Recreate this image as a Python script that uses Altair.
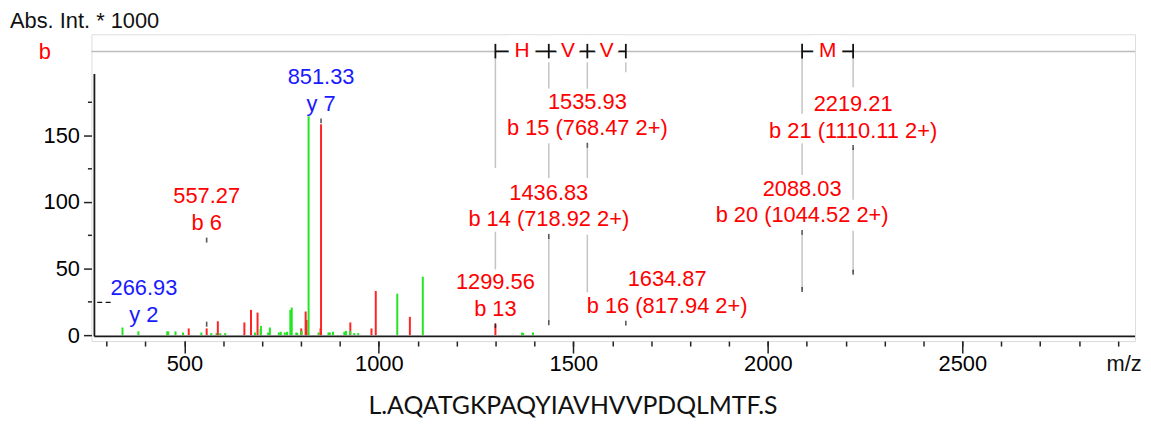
import altair as alt
import pandas as pd

# ---------------- data ----------------
peak_mz = [340.9, 381.8, 455.8, 458.5, 477.2, 496.6, 511.2, 543.6, 557.3, 569.1,
           582.7, 586.0, 592.1, 604.9, 654.2, 671.3, 681.5, 688.1, 695.9, 696.8,
           715.4, 719.8, 742.7, 747.9, 758.1, 763.9, 772.4, 776.0, 787.7, 790.5,
           800.4, 801.5, 811.7, 814.2, 819.3, 844.9, 850.0, 851.33, 870.4, 874.0,
           882.1, 911.2, 915.3, 926.6, 926.0, 936.8, 947.0, 981.0, 992.0, 1047.3,
           1079.7, 1112.9, 1299.56, 1368.2, 1371.0, 1396.3]
peak_int = [5.7, 2.8, 2.8, 2.8, 2.8, 2.0, 5.0, 2.0, 5.0, 1.5,
            1.5, 10.4, 1.5, 1.5, 9.5, 18.9, 2.0, 16.9, 4.5, 6.9,
            2.0, 5.7, 2.0, 2.5, 2.0, 2.5, 18.9, 20.7, 2.0, 1.5,
            5.0, 3.2, 17.7, 11.4, 164.2, 2.0, 5.0, 158.2, 2.0, 2.0,
            2.5, 2.5, 3.2, 9.5, 3.2, 1.5, 1.5, 5.0, 33.1, 31.1,
            13.7, 43.8, 8.2, 2.0, 1.5, 2.0]
peak_col = ["g", "g", "g", "g", "g", "g", "r", "g", "r", "g",
            "g", "r", "g", "g", "r", "r", "g", "r", "g", "g",
            "g", "g", "g", "g", "g", "g", "g", "g", "g", "g",
            "r", "g", "r", "r", "g", "g", "r", "r", "g", "g",
            "g", "g", "g", "r", "g", "g", "g", "r", "r", "g",
            "r", "g", "r", "g", "g", "g"]

ann_label_mz = [396.0, 557.27, 851.33, 1299.56, 1436.83, 1535.93, 1741.0, 2088.03, 2219.21]
ann_anchor = [2.2, 71.3, 160.8, 7.1, 74.1, 142.5, 9.0, 77.1, 140.8]
ann_line1 = ["266.93", "557.27", "851.33", "1299.56", "1436.83", "1535.93",
             "1634.87", "2088.03", "2219.21"]
ann_line2 = ["y 2", "b 6", "y 7", "b 13", "b 14 (718.92 2+)", "b 15 (768.47 2+)",
             "b 16 (817.94 2+)", "b 20 (1044.52 2+)", "b 21 (1110.11 2+)"]
ann_col = ["#1a1aff", "#ff0000", "#1a1aff", "#ff0000", "#ff0000", "#ff0000",
           "#ff0000", "#ff0000", "#ff0000"]

marker_mz = [557.27, 557.27, 851.33, 1299.56, 1436.83, 1436.83, 1535.93,
             1634.87, 2088.03, 2088.03, 2219.21, 2219.21]
marker_int = [71.3, 8.2, 160.8, 7.1, 74.1, 9.3, 142.5, 9.0, 77.1, 34.3, 140.8, 47.2]

y2_dash_mz = [276.0, 312.0]
y2_dash_int = 24.6

ladder_mz = [1299.56, 1436.83, 1535.93, 1634.87, 2088.03, 2219.21]
ladder_res = ["H", "V", "V", "M"]
ladder_pairs = [(0, 1), (1, 2), (2, 3), (4, 5)]
ladder_runs = [(0, 3), (4, 5)]
ladder_level = 212.9
ladder_tick = (207.7, 218.6)

seg_mz = [1299.56, 1299.56,
          1436.83, 1436.83, 1436.83,
          1535.93, 1535.93, 1535.93,
          1634.87,
          2088.03, 2088.03, 2088.03,
          2219.21, 2219.21, 2219.21]
seg_top = [208.2, 77.6, 204.7, 144.0, 73.1, 204.7, 141.0, 75.4, 204.7,
           208.2, 144.0, 76.1, 208.2, 140.3, 78.4]
seg_bot = [125.4, 49.3, 185.1, 117.9, 10.4, 184.9, 117.9, 32.1, 197.2,
           166.2, 120.1, 34.3, 186.0, 101.5, 47.0]

x_major = [500, 1000, 1500, 2000, 2500]
x_minor = list(range(300, 3000, 100))
y_major = [0, 50, 100, 150]
y_minor = [25, 75, 125, 175]

XDOM = [261.0, 2944.0]
YDOM = [-4.5, 225.8]
inner_axis_mz = 268.7
inner_axis_int = (-0.97, 196.0)

sequence = "L.AQATGKPAQYIAVHVVPDQLMTF.S"

W, H = 1051, 309
FONT = "Liberation Sans"
FS = 22
GREEN = "#22e622"
RED = "#ff2424"

# ---------------- tables ----------------
peaks = pd.DataFrame({"mz": peak_mz, "inten": peak_int, "c": peak_col})
peaks["color"] = peaks["c"].map({"g": GREEN, "r": RED})
peaks["zero"] = 0.0

anns = pd.DataFrame({"mz": ann_label_mz, "anchor": ann_anchor, "l1": ann_line1,
                     "l2": ann_line2, "color": ann_col})
markers = pd.DataFrame({"mz": marker_mz, "inten": marker_int})
segs = pd.DataFrame({"mz": seg_mz, "top": seg_top, "bot": seg_bot})
lad = pd.DataFrame({"mz": ladder_mz, "lo": ladder_tick[0], "hi": ladder_tick[1]})
runs = pd.DataFrame({"a": [ladder_mz[i] for i, j in ladder_runs],
                     "b": [ladder_mz[j] for i, j in ladder_runs],
                     "lev": ladder_level})
res = pd.DataFrame({"mz": [(ladder_mz[i] + ladder_mz[j]) / 2 for i, j in ladder_pairs],
                    "res": ladder_res, "lev": ladder_level})
span = pd.DataFrame({"a": [XDOM[0]], "b": [XDOM[1]], "lev": [ladder_level]})
inner = pd.DataFrame({"mz": [inner_axis_mz], "lo": [inner_axis_int[0]],
                      "hi": [inner_axis_int[1]], "right": [XDOM[1]]})
dash = pd.DataFrame({"a": [y2_dash_mz[0]], "b": [y2_dash_mz[1]], "lev": [y2_dash_int]})

xs = alt.Scale(domain=XDOM, nice=False, zero=False)
ys = alt.Scale(domain=YDOM, nice=False, zero=False)

axis_common = dict(domain=False, grid=False, title=None, tickColor="#222222",
                   tickWidth=1.5, labelFont=FONT, labelFontSize=FS,
                   labelColor="black", labelFlush=False, labelOverlap=False,
                   format="d")

ax_x_major = alt.Axis(values=x_major, tickSize=12, labelPadding=1, orient="bottom",
                      **axis_common)
ax_x_minor = alt.Axis(values=x_minor, tickSize=5, labels=False, orient="bottom",
                      **axis_common)
ax_y_major = alt.Axis(values=y_major, tickSize=8, labelPadding=4, orient="left",
                      **axis_common)
ax_y_minor = alt.Axis(values=y_minor, tickSize=4, labels=False, orient="left",
                      **axis_common)


def X(field, axis=None):
    return alt.X(field, type="quantitative", scale=xs, axis=axis)


def Y(field, axis=None):
    return alt.Y(field, type="quantitative", scale=ys, axis=axis)


# ---------------- layers ----------------
ladder_line = alt.Chart(span).mark_rule(color="#bdbdbd", strokeWidth=1.5).encode(
    x=X("a"), x2="b", y=Y("lev"))

gray_segs = alt.Chart(segs).mark_rule(color="#c4c4c4", strokeWidth=1.5).encode(
    x=X("mz"), y=Y("top"), y2="bot")

peak_layer = alt.Chart(peaks).mark_rule(strokeWidth=2).encode(
    x=X("mz", ax_x_major), y=Y("zero", ax_y_major), y2="inten",
    color=alt.Color("color:N", scale=None))

minor_axes = alt.Chart(peaks).mark_point(opacity=0).encode(
    x=X("mz", ax_x_minor), y=Y("zero", ax_y_minor))

inner_y = alt.Chart(inner).mark_rule(color="#1a1a1a", strokeWidth=1.8).encode(
    x=X("mz"), y=Y("lo"), y2="hi")
inner_x = alt.Chart(inner).mark_rule(color="#1a1a1a", strokeWidth=1.8).encode(
    x=X("mz"), x2="right", y=Y("lo"))

marker_layer = alt.Chart(markers).mark_tick(orient="vertical", size=5, thickness=1.6,
                                             color="#111111").encode(
    x=X("mz"), y=Y("inten"))

dash_layer = alt.Chart(dash).mark_rule(color="#111111", strokeWidth=1.4,
                                       strokeDash=[5, 3.5]).encode(
    x=X("a"), x2="b", y=Y("lev"))

lad_ticks = alt.Chart(lad).mark_rule(color="#111111", strokeWidth=1.8).encode(
    x=X("mz"), y=Y("lo"), y2="hi")
lad_runs = alt.Chart(runs).mark_rule(color="#111111", strokeWidth=1.8).encode(
    x=X("a"), x2="b", y=Y("lev"))
res_halo = alt.Chart(res).mark_text(font=FONT, fontSize=21, color="white",
                                    stroke="white", strokeWidth=15,
                                    baseline="middle").encode(
    x=X("mz"), y=Y("lev"), text="res:N")
res_text = alt.Chart(res).mark_text(font=FONT, fontSize=21, color="#ff0000",
                                    baseline="middle").encode(
    x=X("mz"), y=Y("lev"), text="res:N")

lab1 = alt.Chart(anns).mark_text(font=FONT, fontSize=FS, baseline="alphabetic",
                                 dy=-37).encode(
    x=X("mz"), y=Y("anchor"), text="l1:N", color=alt.Color("color:N", scale=None))
lab2 = alt.Chart(anns).mark_text(font=FONT, fontSize=FS, baseline="alphabetic",
                                 dy=-10).encode(
    x=X("mz"), y=Y("anchor"), text="l2:N", color=alt.Color("color:N", scale=None))

one = pd.DataFrame({"t": ["Abs. Int. * 1000"], "b": ["b"], "mz": ["m/z"], "seq": [sequence]})
title_txt = alt.Chart(one).mark_text(font=FONT, fontSize=22, align="left",
                                     baseline="alphabetic", color="#111111").encode(
    x=alt.value(-82), y=alt.value(-6), text="t:N")
b_txt = alt.Chart(one).mark_text(font=FONT, fontSize=22, align="left",
                                 baseline="alphabetic", color="#ff0000").encode(
    x=alt.value(-53), y=alt.value(25), text="b:N")
mz_txt = alt.Chart(one).mark_text(font=FONT, fontSize=FS, align="center",
                                  baseline="alphabetic", color="#111111").encode(
    x=alt.value(1040), y=alt.value(339), text="mz:N")
seq_txt = alt.Chart(one).mark_text(font="Lato", fontSize=25, align="center",
                                   baseline="alphabetic", color="#111111").encode(
    x=alt.value(485), y=alt.value(382), text="seq:N")

chart = alt.layer(
    ladder_line, gray_segs, peak_layer, minor_axes, inner_y, inner_x,
    marker_layer, dash_layer, lad_runs, lad_ticks, res_halo, res_text,
    lab1, lab2, title_txt, b_txt, mz_txt, seq_txt
).resolve_axis(x="independent", y="independent").properties(
    width=W, height=H,
    autosize=alt.AutoSizeParams(type="none"),
    padding={"left": 84, "top": 25, "right": 8, "bottom": 76},
).configure_view(stroke="#333333", strokeWidth=2).configure(background="white")

chart.save("out.html", embed_options={"renderer": "svg", "actions": False})
